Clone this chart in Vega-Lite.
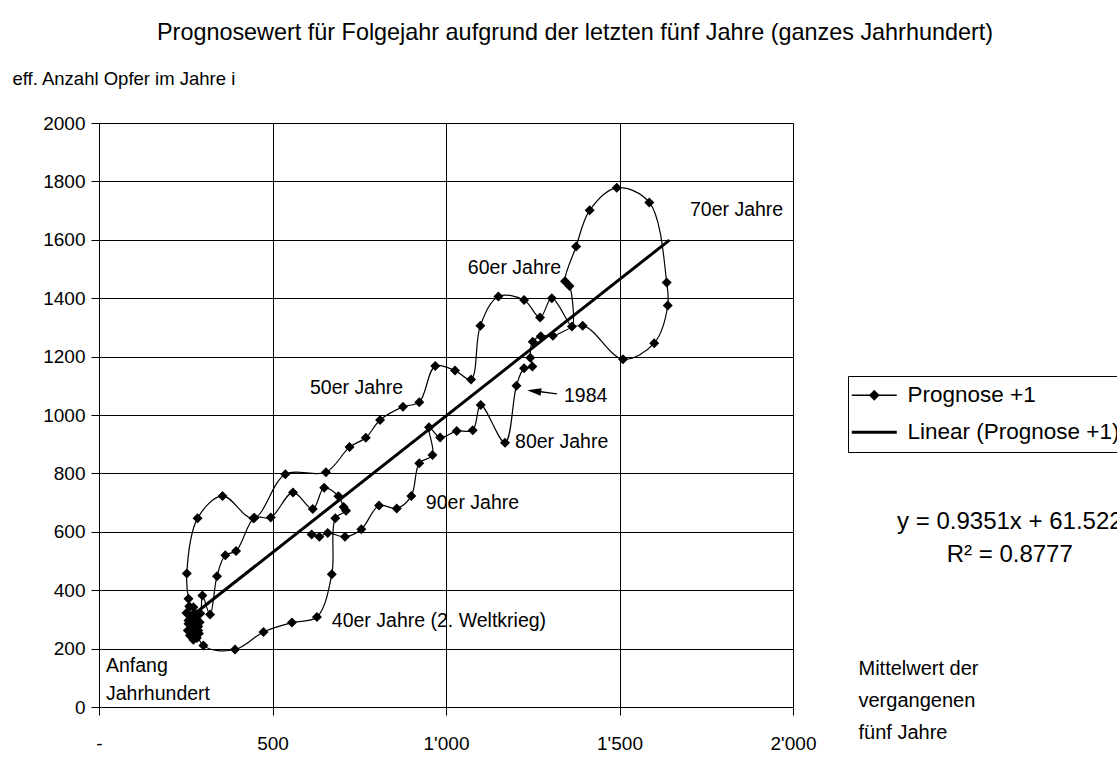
{
  "$schema": "https://vega.github.io/schema/vega-lite/v6.json",
  "width": 694,
  "height": 584,
  "autosize": {"type": "none"},
  "padding": {"left": 99, "top": 123, "right": 324, "bottom": 73},
  "background": "white",
  "title": {"text": "Prognosewert für Folgejahr aufgrund der letzten fünf Jahre (ganzes Jahrhundert)", "frame": "group", "anchor": "middle", "dx": 129, "offset": 24, "fontSize": 23.4, "fontWeight": "normal", "font": "Liberation Sans", "color": "black"},
  "config": {
    "font": "Liberation Sans",
    "view": {"stroke": null},
    "axis": {"labelFont": "Liberation Sans", "titleFont": "Liberation Sans", "labelColor": "black", "titleColor": "black", "domainColor": "black", "tickColor": "black", "gridColor": "black", "gridOpacity": 1, "gridWidth": 1, "domainWidth": 1, "tickWidth": 1, "labelFontSize": 19, "titleFontSize": 18.5, "titleFontWeight": "normal"}
  },
  "datasets": {
    "pts": [
      {"i":1,"x":262,"y":300},{"i":2,"x":270,"y":262},{"i":3,"x":276,"y":240},{"i":4,"x":272,"y":230},{"i":5,"x":262,"y":245},
      {"i":6,"x":256,"y":262},{"i":7,"x":258,"y":285},{"i":8,"x":265,"y":300},{"i":9,"x":272,"y":318},{"i":10,"x":280,"y":300},
      {"i":11,"x":286,"y":276},{"i":12,"x":288,"y":252},{"i":13,"x":282,"y":236},{"i":14,"x":272,"y":248},{"i":15,"x":264,"y":270},
      {"i":16,"x":258,"y":296},{"i":17,"x":252,"y":322},{"i":18,"x":260,"y":345},{"i":19,"x":272,"y":342},{"i":20,"x":282,"y":318},
      {"i":21,"x":290,"y":290},{"i":22,"x":286,"y":262},{"i":23,"x":276,"y":255},{"i":24,"x":270,"y":280},{"i":25,"x":278,"y":305},
      {"i":26,"x":292,"y":320},{"i":27,"x":298,"y":382},{"i":28,"x":320,"y":317},{"i":29,"x":340,"y":448},{"i":30,"x":364,"y":520},
      {"i":31,"x":395,"y":534},{"i":32,"x":448,"y":648},{"i":33,"x":495,"y":649},{"i":34,"x":559,"y":735},{"i":35,"x":616,"y":678},
      {"i":36,"x":649,"y":751},{"i":37,"x":690,"y":722},{"i":38,"x":705,"y":685},{"i":39,"x":712,"y":672},{"i":40,"x":681,"y":646},
      {"i":41,"x":671,"y":455},{"i":42,"x":628,"y":308},{"i":43,"x":556,"y":289},{"i":44,"x":474,"y":257},{"i":45,"x":392,"y":197},
      {"i":46,"x":301,"y":211},{"i":47,"x":258,"y":371},{"i":48,"x":253,"y":457},{"i":49,"x":284,"y":646},{"i":50,"x":356,"y":723},
      {"i":51,"x":445,"y":646},{"i":52,"x":537,"y":797},{"i":53,"x":654,"y":804},{"i":54,"x":722,"y":890},{"i":55,"x":769,"y":922},
      {"i":56,"x":810,"y":983},{"i":57,"x":876,"y":1028},{"i":58,"x":923,"y":1044},{"i":59,"x":969,"y":1168},{"i":60,"x":1026,"y":1152},
      {"i":61,"x":1072,"y":1122},{"i":62,"x":1099,"y":1306},{"i":63,"x":1151,"y":1406},{"i":64,"x":1225,"y":1394},{"i":65,"x":1271,"y":1334},
      {"i":66,"x":1305,"y":1400},{"i":67,"x":1363,"y":1303},{"i":68,"x":1356,"y":1442},{"i":69,"x":1343,"y":1458},{"i":70,"x":1375,"y":1577},
      {"i":71,"x":1414,"y":1701},{"i":72,"x":1492,"y":1778},{"i":73,"x":1586,"y":1728},{"i":74,"x":1636,"y":1454},{"i":75,"x":1639,"y":1375},
      {"i":76,"x":1600,"y":1246},{"i":77,"x":1510,"y":1191},{"i":78,"x":1394,"y":1306},{"i":79,"x":1308,"y":1271},{"i":80,"x":1273,"y":1270},
      {"i":81,"x":1250,"y":1251},{"i":82,"x":1243,"y":1196},{"i":83,"x":1249,"y":1166},{"i":84,"x":1225,"y":1160},{"i":85,"x":1203,"y":1100},
      {"i":86,"x":1170,"y":905},{"i":87,"x":1100,"y":1034},{"i":88,"x":1077,"y":948},{"i":89,"x":1031,"y":945},{"i":90,"x":983,"y":923},
      {"i":91,"x":951,"y":958},{"i":92,"x":961,"y":863},{"i":93,"x":923,"y":835},{"i":94,"x":900,"y":723},{"i":95,"x":858,"y":680},
      {"i":96,"x":807,"y":690},{"i":97,"x":756,"y":609},{"i":98,"x":709,"y":583},{"i":99,"x":659,"y":596},{"i":100,"x":635,"y":583},
      {"i":101,"x":613,"y":591}
    ],
    "trend": [{"x": 250, "y": 295.3}, {"x": 1644, "y": 1598.8}],
    "notes": [
      {"label": "70er Jahre", "x": 1703, "y": 1702},
      {"label": "60er Jahre", "x": 1063, "y": 1505},
      {"label": "50er Jahre", "x": 608, "y": 1092},
      {"label": "1984", "x": 1340, "y": 1065},
      {"label": "80er Jahre", "x": 1199, "y": 908},
      {"label": "90er Jahre", "x": 942, "y": 699},
      {"label": "40er Jahre (2. Weltkrieg)", "x": 671, "y": 293},
      {"label": "Anfang", "x": 20, "y": 140},
      {"label": "Jahrhundert", "x": 20, "y": 45}
    ],
    "arrow": [{"x": 1250, "y": 1083, "x2": 1320, "y2": 1072}],
    "arrowhead": [{"x": 1254, "y": 1082}],
    "eq": [
      {"label": "y = 0.9351x + 61.522", "x": 2300, "y": 634},
      {"label": "R² = 0.8777", "x": 2443, "y": 520}
    ]
  },
  "layer": [
    {
      "data": {"name": "pts"},
      "mark": {"type": "line", "interpolate": "catmull-rom", "strokeWidth": 1.2},
      "encoding": {
        "x": {"field": "x", "type": "quantitative", "scale": {"domain": [0, 2000], "nice": false, "zero": false},
          "axis": {"values": [0, 500, 1000, 1500, 2000], "labelExpr": "datum.value == 0 ? '-' : replace(format(datum.value, ','), ',', \"'\")", "tickSize": 8, "labelPadding": 19, "labelFlush": false, "grid": true,
            "title": ["Mittelwert der", "vergangenen", "fünf Jahre"], "titleX": 759, "titleY": -49, "titleAlign": "left", "titleBaseline": "top", "titleLineHeight": 32, "titleFontSize": 20, "titleAngle": 0}},
        "y": {"field": "y", "type": "quantitative", "scale": {"domain": [0, 2000], "nice": false, "zero": false},
          "axis": {"values": [0, 200, 400, 600, 800, 1000, 1200, 1400, 1600, 1800, 2000], "format": "d", "tickSize": 8, "labelPadding": 6, "grid": true,
            "title": "eff. Anzahl Opfer im Jahre i", "titleAngle": 0, "titleX": -87, "titleY": -45, "titleAlign": "left", "titleBaseline": "middle"}},
        "order": {"field": "i", "type": "quantitative"},
        "color": {"datum": "Prognose +1", "type": "nominal",
          "scale": {"domain": ["Prognose +1", "Linear (Prognose +1)"], "range": ["black", "black"]},
          "legend": {"orient": "none", "legendX": 749, "legendY": 253, "title": null, "strokeColor": "black", "fillColor": "white", "padding": 8,
            "labelFontSize": 22.5, "labelFont": "Liberation Sans", "labelColor": "black", "labelOffset": 29, "labelLimit": 500,
            "symbolSize": 1296, "symbolStrokeWidth": 1.3, "rowPadding": 14, "cornerRadius": 0,
            "encode": {"symbols": {"update": {
              "shape": {"signal": "datum.value === 'Prognose +1' ? 'M-0.86,0L1.64,0M0.39,-0.25L0.64,0L0.39,0.25L0.14,0Z' : 'M-0.86,0L1.64,0'"},
              "strokeWidth": {"signal": "datum.value === 'Prognose +1' ? 1.3 : 3"},
              "fill": {"value": "black"}, "stroke": {"value": "black"}, "opacity": {"value": 1}, "size": {"value": 1296}}}}}}
      }
    },
    {
      "data": {"name": "pts"},
      "mark": {"type": "point", "shape": "diamond", "filled": true, "size": 100, "opacity": 1},
      "encoding": {
        "x": {"field": "x", "type": "quantitative"},
        "y": {"field": "y", "type": "quantitative"},
        "color": {"datum": "Prognose +1", "type": "nominal"}
      }
    },
    {
      "data": {"name": "trend"},
      "mark": {"type": "line", "strokeWidth": 3},
      "encoding": {
        "x": {"field": "x", "type": "quantitative"},
        "y": {"field": "y", "type": "quantitative"},
        "color": {"datum": "Linear (Prognose +1)", "type": "nominal"}
      }
    },
    {
      "data": {"name": "notes"},
      "mark": {"type": "text", "align": "left", "baseline": "middle", "fontSize": 19.5, "color": "black", "font": "Liberation Sans"},
      "encoding": {
        "x": {"field": "x", "type": "quantitative"},
        "y": {"field": "y", "type": "quantitative"},
        "text": {"field": "label"}
      }
    },
    {
      "data": {"name": "arrow"},
      "mark": {"type": "rule", "strokeWidth": 1.3, "color": "black"},
      "encoding": {
        "x": {"field": "x", "type": "quantitative"},
        "y": {"field": "y", "type": "quantitative"},
        "x2": {"field": "x2"},
        "y2": {"field": "y2"}
      }
    },
    {
      "data": {"name": "arrowhead"},
      "mark": {"type": "point", "shape": "M-1,0L1,-0.55L1,0.55Z", "filled": true, "size": 196, "opacity": 1, "color": "black", "angle": 7.6},
      "encoding": {
        "x": {"field": "x", "type": "quantitative"},
        "y": {"field": "y", "type": "quantitative"}
      }
    },
    {
      "data": {"name": "eq"},
      "mark": {"type": "text", "align": "left", "baseline": "middle", "fontSize": 24, "color": "black", "font": "Liberation Sans"},
      "encoding": {
        "x": {"field": "x", "type": "quantitative"},
        "y": {"field": "y", "type": "quantitative"},
        "text": {"field": "label"}
      }
    }
  ]
}
